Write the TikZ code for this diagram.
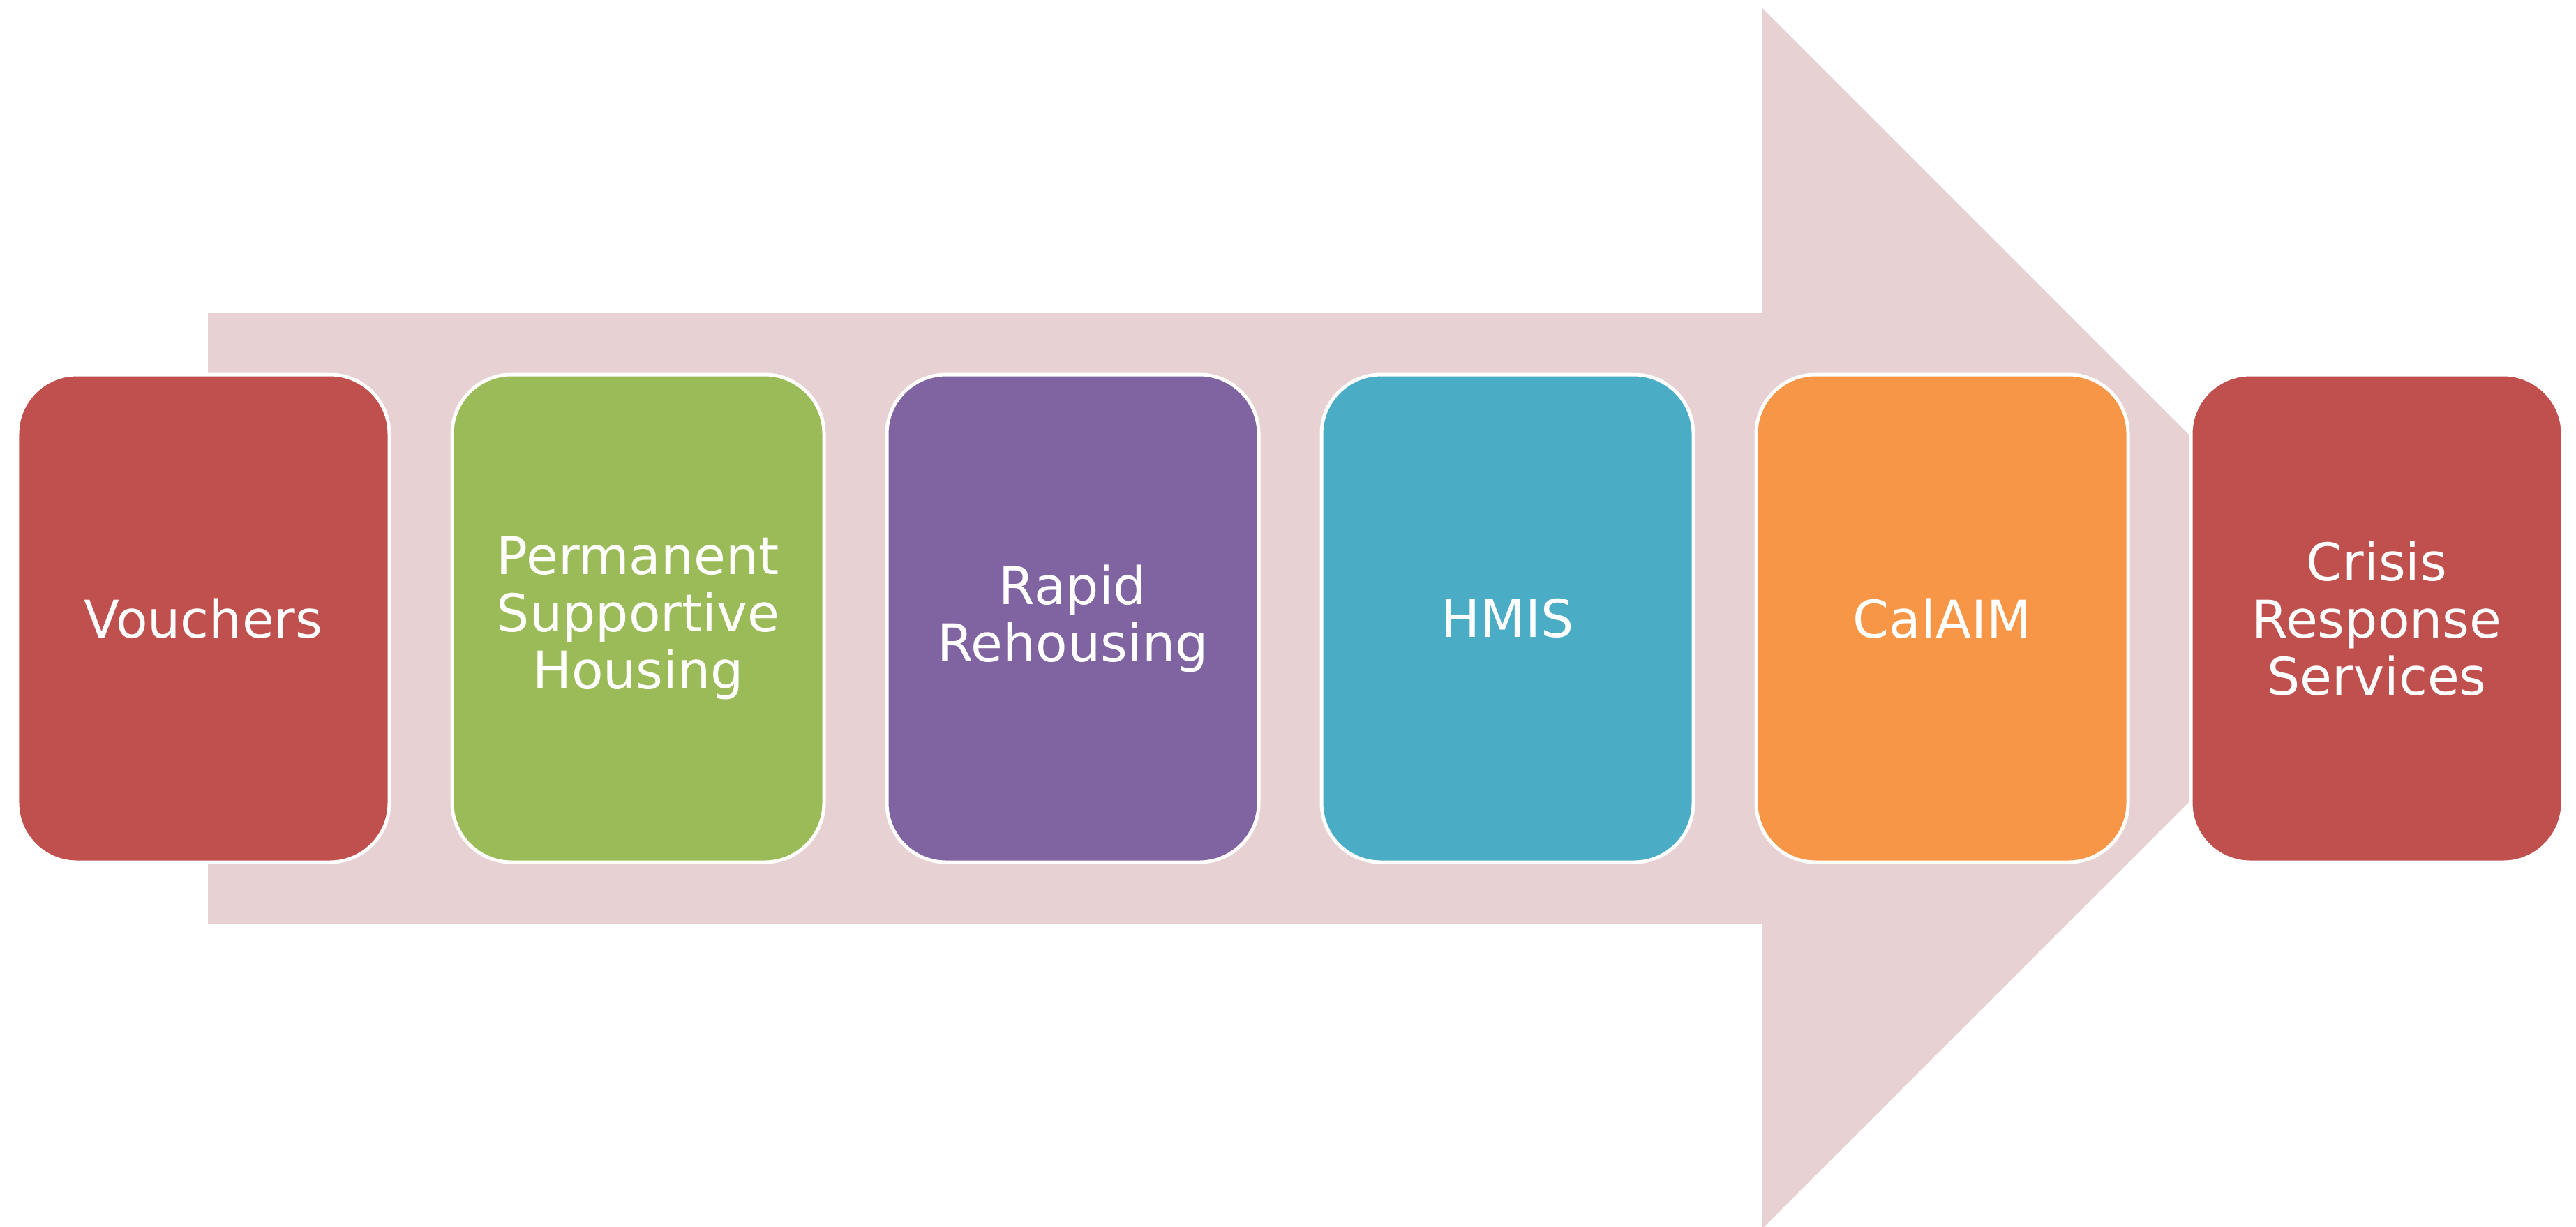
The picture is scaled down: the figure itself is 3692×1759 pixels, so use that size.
\documentclass[tikz,border=0pt]{standalone}
\usepackage{fontspec}
\newfontfamily\boxfont{DejaVu Sans}
\definecolor{arrowpink}{HTML}{E8D1D2}
\definecolor{accred}{HTML}{C0504D}
\definecolor{accgreen}{HTML}{9BBB59}
\definecolor{accpurple}{HTML}{8064A2}
\definecolor{accteal}{HTML}{4BACC6}
\definecolor{accorange}{HTML}{F79646}
\tikzset{
  stagebox/.style={draw=white, line width=1pt, rounded corners=17pt,
    minimum width=106.6pt, minimum height=139.8pt, inner sep=0pt,
    text=white, align=center,
    font=\boxfont\fontsize{14.9pt}{16.4pt}\selectfont},
  bigarrow/.style={fill=arrowpink, draw=none}
}
\begin{document}
\begin{tikzpicture}[x=0.2pt, y=-0.2pt]
\useasboundingbox (0,0) rectangle (3692,1759);
\clip (0,0) rectangle (3692,1759);
\fill[bigarrow] (298,449) -- (2525,449) -- (2525,11) -- (3400.5,886.5)
  -- (2525,1762) -- (2525,1324) -- (298,1324) -- cycle;
\node[stagebox, fill=accred]    (vouchers) at (291.5,886.5)  {Vouchers};
\node[stagebox, fill=accgreen]  (psh)      at (914.5,886.5)  {Permanent\\Supportive\\Housing};
\node[stagebox, fill=accpurple] (rrh)      at (1537.5,886.5) {Rapid\\Rehousing};
\node[stagebox, fill=accteal]   (hmis)     at (2160.5,886.5) {HMIS};
\node[stagebox, fill=accorange] (calaim)   at (2783.5,886.5) {CalAIM};
\node[stagebox, fill=accred]    (crisis)   at (3406.5,886.5) {Crisis\\Response\\Services};
\end{tikzpicture}
\end{document}
